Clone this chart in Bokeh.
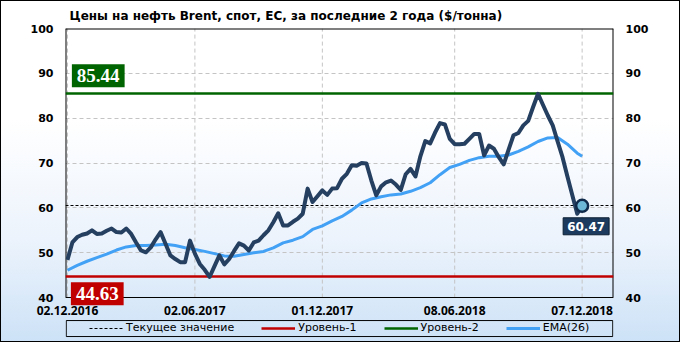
from bokeh.plotting import figure
from bokeh.models import (LinearAxis, FixedTicker, Label, Legend, LegendItem, Range1d)
from bokeh.embed import file_html
from bokeh.resources import INLINE

# ---- data (weekly, Fridays, 02.12.2016 .. 07.12.2018) ----
weeks = list(range(106))
price = [48.4, 52.3, 53.5, 54.0, 54.3, 55.0, 54.2, 54.3, 54.9, 55.4,
         54.6, 54.5, 55.4, 54.2, 52.3, 50.5, 50.1, 51.2, 53.0, 54.6,
         52.0, 49.4, 48.6, 47.9, 47.9, 52.7, 49.8, 47.5, 46.2, 44.6,
         47.0, 49.4, 47.4, 48.6, 50.4, 52.1, 51.6, 50.5, 52.3, 52.7,
         53.9, 55.0, 56.8, 58.8, 56.1, 56.1, 56.9, 57.6, 58.7, 64.3,
         61.3, 62.6, 63.9, 62.9, 64.3, 64.4, 66.5, 67.6, 69.5, 69.4,
         70.0, 69.9, 66.1, 62.8, 64.8, 65.7, 66.1, 65.2, 64.0, 67.5,
         68.7, 67.0, 71.5, 74.9, 74.4, 76.8, 78.9, 78.6, 75.4, 74.2,
         74.2, 74.3, 75.4, 76.5, 76.5, 71.7, 73.9, 73.2, 71.3, 69.7,
         73.0, 76.2, 76.7, 78.4, 79.4, 82.5, 85.44, 83.0, 80.6, 78.4,
         74.8, 71.3, 67.0, 62.8, 58.7, 60.47]

ema_weeks = [0, 2, 4, 6, 8, 10, 12, 14, 16, 18, 20, 22, 24, 26, 28, 30,
             32, 34, 36, 38, 40, 42, 44, 46, 48, 50, 52, 54, 56, 58, 60,
             62, 64, 66, 68, 70, 72, 74, 76, 78, 80, 82, 84, 86, 88, 90,
             92, 94, 96, 98, 100, 102, 104, 105]
ema = [46.1, 47.2, 48.1, 48.9, 49.7, 50.6, 51.3, 51.6, 51.6, 51.7, 51.9,
       51.6, 51.1, 50.7, 50.3, 49.8, 49.3, 49.2, 49.6, 50.0, 50.3, 51.1,
       52.2, 52.8, 53.6, 55.2, 56.0, 57.1, 58.1, 59.5, 61.1, 62.0, 62.5,
       62.9, 63.1, 63.7, 64.5, 65.6, 67.4, 69.0, 69.7, 70.6, 71.2, 71.5,
       71.5, 71.8, 72.6, 73.6, 74.8, 75.6, 75.7, 74.2, 72.2, 71.5]

tick_weeks = [0, 26, 52, 79, 105]
tick_labels = ["02.12.2016", "02.06.2017", "01.12.2017", "08.06.2018", "07.12.2018"]
y_ticks = [40, 50, 60, 70, 80, 90, 100]

level1 = 44.63
level2 = 85.44
current = 60.47

TITLE = "Цены на нефть Brent, спот, ЕС, за последние 2 года ($/тонна)"

FONT = "DejaVu Sans"
NAVY = "#243f60"
EMA_C = "#42a0f5"
RED = "#c00000"
GREEN = "#006400"

x_lo, x_hi = -0.4, 111.4
y_lo, y_hi = 40, 100
# the frame reaches down under the value area so that the level badge,
# the date labels and the legend can sit there without being clipped
y_floor = 31.1
legend_box = (31.31, 34.88)   # bottom / top of the legend frame, in y units

p = figure(width=680, height=342, output_backend="svg", toolbar_location=None,
           x_range=Range1d(x_lo, x_hi), y_range=Range1d(y_floor, y_hi),
           min_border_left=65, min_border_right=67, min_border_top=28,
           min_border_bottom=5)

p.styles = {"background-image": "linear-gradient(to bottom, #ffffff 0%, #ffffff 35%, #ecf3fc 70%, #cde2f7 100%)",
            "box-shadow": "inset 0 0 0 1px #000000"}
p.border_fill_alpha = 0
p.background_fill_alpha = 0
p.outline_line_color = None

# title
p.title.text = TITLE
p.title.align = "left"
p.title.offset = 4
p.title.text_font = FONT
p.title.text_font_size = "12px"
p.title.text_font_style = "bold"
p.title.text_color = "black"
p.title.standoff = 12

# axes
def style_axis(ax, font=FONT, size="11px"):
    ax.axis_line_color = None
    ax.major_tick_line_color = None
    ax.minor_tick_line_color = None
    ax.major_tick_out = 0
    ax.major_tick_in = 0
    ax.minor_tick_out = 0
    ax.major_label_text_font = font
    ax.major_label_text_font_size = size
    ax.major_label_text_font_style = "bold"
    ax.major_label_text_color = "black"

p.yaxis.ticker = FixedTicker(ticks=y_ticks)
p.yaxis.major_label_standoff = 12
style_axis(p.yaxis[0])
ry = LinearAxis(ticker=FixedTicker(ticks=y_ticks), major_label_standoff=12)
style_axis(ry)
p.add_layout(ry, "right")

p.xaxis.ticker = FixedTicker(ticks=tick_weeks)
p.xaxis.major_label_overrides = {w: l for w, l in zip(tick_weeks, tick_labels)}
p.xaxis.major_label_standoff = -32
style_axis(p.xaxis[0], font="Noto Sans", size="12px")

p.xgrid.visible = False
p.ygrid.ticker = FixedTicker(ticks=y_ticks[1:-1])
p.ygrid.grid_line_color = "#c4c4c4"
p.ygrid.grid_line_dash = "4 3"
# vertical grid lines, only over the value area
p.segment(x0=tick_weeks, y0=[y_lo] * len(tick_weeks), x1=tick_weeks, y1=[y_hi] * len(tick_weeks),
          line_color="#c4c4c4", line_dash="4 3", line_width=1)

# frame of the value area
p.hspan(y=[y_lo], line_color="black", line_width=1)
p.hspan(y=[y_hi], line_color="black", line_width=2)
p.segment(x0=[x_lo, x_hi], y0=[y_lo, y_lo], x1=[x_lo, x_hi], y1=[y_hi, y_hi],
          line_color="black", line_width=2)

# frame of the legend
p.quad(left=[x_lo + 0.15], right=[x_hi - 0.15], bottom=[legend_box[0]], top=[legend_box[1]],
       fill_alpha=0, line_color="black", line_width=1)

# level lines
r_cur = p.hspan(y=[current], line_color="black", line_width=1, line_dash="3 2")
r_l1 = p.hspan(y=[level1], line_color=RED, line_width=2.5)
r_l2 = p.hspan(y=[level2], line_color=GREEN, line_width=2.5)

# series
r_ema = p.line(ema_weeks, ema, line_color=EMA_C, line_width=3)
p.line(weeks, price, line_color=NAVY, line_width=4, line_join="round")
p.scatter([weeks[-1]], [price[-1]], size=12, fill_color="#6cb6d6",
          line_color="#0f2a4a", line_width=2.5)

# value labels
p.add_layout(Label(x=0.9, y=level2, text=f"{level2:.2f}", text_font="Liberation Serif",
                   text_font_size="19px", text_font_style="bold", text_color="white",
                   text_align="left", text_baseline="middle", y_offset=18,
                   background_fill_color=GREEN, padding=5))
p.add_layout(Label(x=0.7, y=level1, text=f"{level1:.2f}", text_font="Liberation Serif",
                   text_font_size="19px", text_font_style="bold", text_color="white",
                   text_align="left", text_baseline="middle", y_offset=-17,
                   background_fill_color=RED, padding=5))
p.add_layout(Label(x=weeks[-1], y=current, text=f"{current:.2f}", text_font=FONT,
                   text_font_size="12px", text_font_style="bold", text_color="white",
                   text_align="center", text_baseline="top", y_offset=-12, x_offset=4,
                   background_fill_color="#1c3a5e", border_line_color="#0b1e33",
                   border_line_width=1, padding=4))

# legend
legend = Legend(items=[LegendItem(label="Текущее значение", renderers=[r_cur]),
                       LegendItem(label="Уровень-1", renderers=[r_l1]),
                       LegendItem(label="Уровень-2", renderers=[r_l2]),
                       LegendItem(label="EMA(26)", renderers=[r_ema])],
                orientation="horizontal", location=(22, 1),
                label_text_font=FONT, label_text_font_size="11px",
                label_text_color="black",
                glyph_width=34, glyph_height=12, label_standoff=3, spacing=27,
                padding=2, margin=0, border_line_alpha=0,
                background_fill_alpha=0, label_height=12)
p.add_layout(legend, "center")

open("out.html", "w").write(file_html(p, INLINE))
